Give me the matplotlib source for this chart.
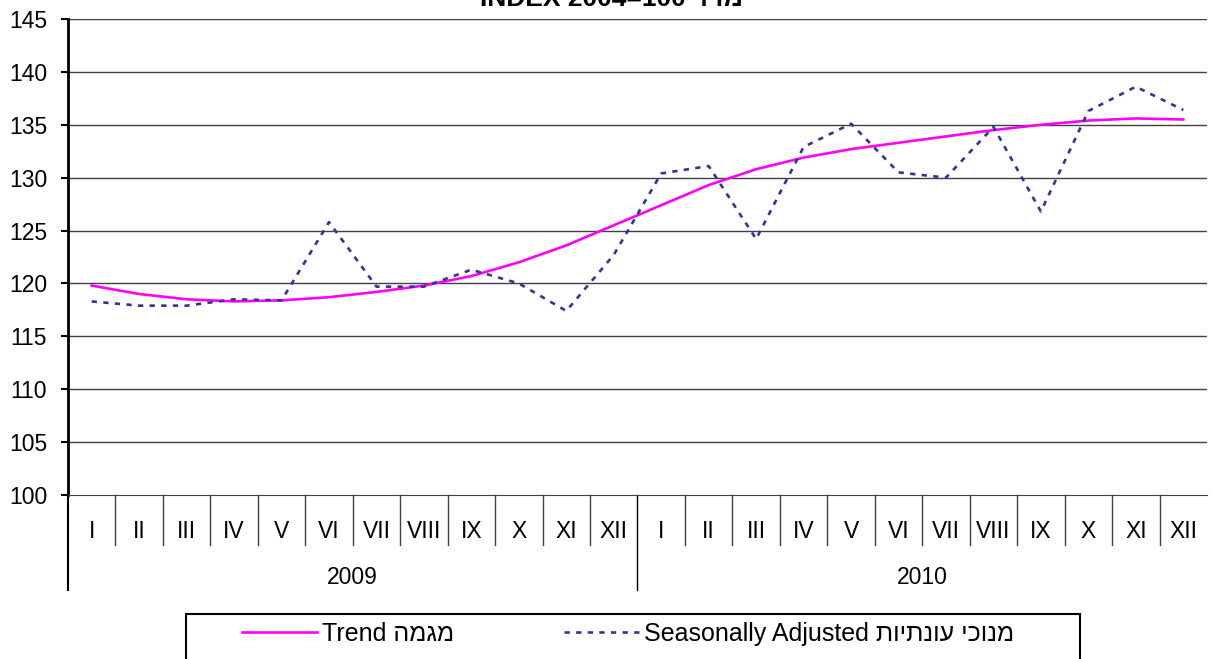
import matplotlib.pyplot as plt
import matplotlib.transforms as mtransforms
from matplotlib.patches import Rectangle

plt.rcParams['font.family'] = ['Liberation Sans', 'DejaVu Sans']

months = ['I', 'II', 'III', 'IV', 'V', 'VI', 'VII', 'VIII', 'IX', 'X', 'XI', 'XII']
years = ['2009', '2010']
trend = [119.8, 119.0, 118.5, 118.3, 118.4, 118.7, 119.2, 119.8, 120.7, 122.0, 123.6, 125.5,
         127.4, 129.3, 130.8, 131.9, 132.7, 133.3, 133.9, 134.5, 135.0, 135.4, 135.6, 135.5]
seas_adj = [118.3, 117.9, 117.9, 118.5, 118.4, 125.8, 119.7, 119.7, 121.3, 120.0, 117.4, 122.7,
            130.4, 131.1, 124.2, 132.9, 135.1, 130.5, 130.0, 134.8, 126.8, 136.3, 138.6, 136.4]

# hebrew written in visual order (matplotlib has no bidi)
title = 'INDEX 2004=100 ' + 'מדד'[::-1]
lbl_trend = 'Trend ' + 'מגמה'[::-1]
lbl_sa = 'Seasonally Adjusted ' + 'מנוכי עונתיות'[::-1]

n = len(trend)
x = list(range(n))

fig = plt.figure(figsize=(12.13, 6.59), dpi=100)
ax = fig.add_axes([68 / 1213, 1 - 495 / 659, (1207 - 68) / 1213, 476 / 659])

for v in range(105, 150, 5):
    ax.axhline(v, color='#404040', lw=1, zorder=1)

l1, = ax.plot(x, trend, color='#FF00FF', lw=1.9, zorder=3, label=lbl_trend)
l2, = ax.plot(x, seas_adj, color='#333399', lw=1.9, dashes=(2, 2.4), zorder=4, label=lbl_sa)

ax.set_xlim(-0.5, n - 0.5)
ax.set_ylim(100, 145)
ax.set_yticks(range(100, 150, 5))
ax.tick_params(axis='y', labelsize=16.5, length=5, width=1.5, pad=10)

for s in ['top', 'right']:
    ax.spines[s].set_visible(False)
ax.spines['left'].set_linewidth(2)
ax.spines['bottom'].set_color('#404040')

ax.set_xticks(x)
ax.set_xticklabels(months * len(years), fontsize=16.5)
ax.tick_params(axis='x', length=0, pad=18)

# category separators below the axis
trans = mtransforms.blended_transform_factory(ax.transData, ax.transAxes)
short = 50 / 476
tall = 95 / 476
for i in range(n):
    b = i - 0.5
    depth = tall if i % 12 == 0 else short
    ax.plot([b, b], [0, -depth], color='black' if i % 12 == 0 else '#404040',
            lw=1.5 if i == 0 else 1, transform=trans, clip_on=False)
for k, yr in enumerate(years):
    ax.text(k * 12 + 5.5, -83 / 476, yr, transform=trans, ha='center', va='center', fontsize=16.5)

fig.text(611 / 1213, 1 - 6 / 659, title, ha='center', va='baseline', fontsize=19, fontweight='bold')

# legend box, cut by the bottom edge like the original
fig.add_artist(Rectangle((186 / 1213, -0.05), (1080 - 186) / 1213, 0.05 + 1 - 614 / 659,
                         transform=fig.transFigure, fill=False, lw=1.5, ec='black'))
leg = fig.legend(handles=[l1, l2], loc='upper left', ncol=2,
                 bbox_to_anchor=(242 / 1213, 1 - 622 / 659),
                 fontsize=18, frameon=False, handlelength=3.0, handletextpad=0.2,
                 columnspacing=4.4, borderpad=0, borderaxespad=0)

fig.savefig('out.png', dpi=100)
